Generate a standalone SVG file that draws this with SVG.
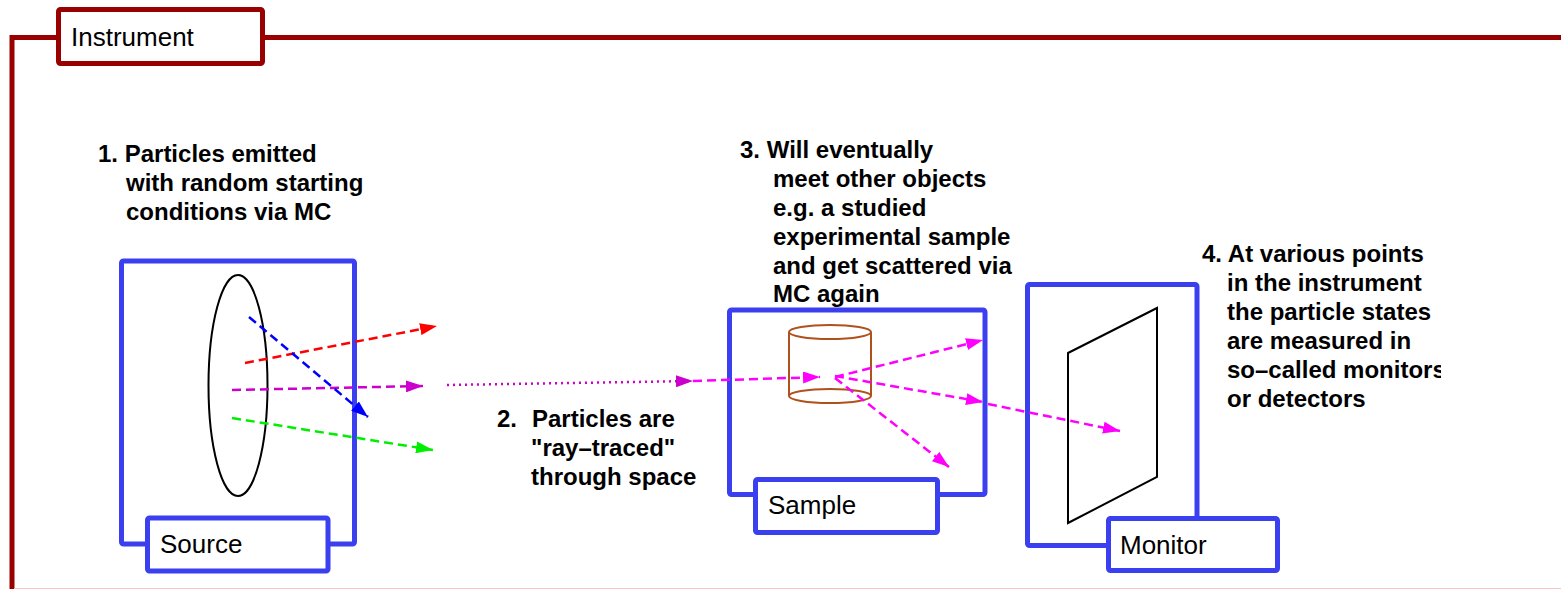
<svg xmlns="http://www.w3.org/2000/svg" width="1561" height="589" viewBox="0 0 1561 589">
<defs>
<style>
.frame{fill:none;stroke:#990000;stroke-width:5}
.framelbl{fill:#fff;stroke:#990000;stroke-width:5}
.box{fill:none;stroke:#3a3ff0;stroke-width:5}
.lbl{fill:#fff;stroke:#3a3ff0;stroke-width:5}
.lt{font-family:"Liberation Sans",Arial,Helvetica,sans-serif;font-size:26px;fill:#000}
.note{font-family:"Liberation Sans",Arial,Helvetica,sans-serif;font-size:24px;font-weight:bold;fill:#000}
.ray{fill:none;stroke-width:2.5;stroke-dasharray:9,5}
.obj{fill:none;stroke:#000;stroke-width:2}
.cyl{fill:none;stroke:#b0501a;stroke-width:2}
</style>
<marker id="ahR" markerWidth="17" markerHeight="12" refX="17" refY="6" orient="auto" markerUnits="userSpaceOnUse"><path d="M0,0 L17,6 L0,12 z" fill="#ff0000"/></marker>
<marker id="ahP" markerWidth="17" markerHeight="12" refX="17" refY="6" orient="auto" markerUnits="userSpaceOnUse"><path d="M0,0 L17,6 L0,12 z" fill="#cc00cc"/></marker>
<marker id="ahM" markerWidth="17" markerHeight="12" refX="17" refY="6" orient="auto" markerUnits="userSpaceOnUse"><path d="M0,0 L17,6 L0,12 z" fill="#ff00ff"/></marker>
<marker id="ahG" markerWidth="17" markerHeight="12" refX="17" refY="6" orient="auto" markerUnits="userSpaceOnUse"><path d="M0,0 L17,6 L0,12 z" fill="#00ee00"/></marker>
<marker id="ahB" markerWidth="17" markerHeight="12" refX="17" refY="6" orient="auto" markerUnits="userSpaceOnUse"><path d="M0,0 L17,6 L0,12 z" fill="#0000ff"/></marker>
<clipPath id="clip4"><rect x="1190" y="230" width="251" height="200"/></clipPath>
</defs>
<rect x="0" y="0" width="1561" height="589" fill="#fff"/>

<g id="instrument">
<path class="frame" d="M12,589 V37.5 H58 M263,37.5 H1561"/>
<rect class="framelbl" x="58.5" y="9.5" width="204" height="54" rx="2"/>
<text class="lt" x="71" y="46">Instrument</text>
<line x1="14" y1="588.5" x2="1561" y2="588.5" stroke="#f4c6c6" stroke-width="1"/>
</g>

<g id="source">
<rect class="box" x="121.5" y="261" width="233" height="283" rx="2"/>
<ellipse class="obj" cx="238" cy="385.5" rx="29.5" ry="110.5"/>
</g>

<g id="sample">
<rect class="box" x="729.5" y="310" width="255.5" height="184.5" rx="2"/>
<g id="cylinder">
<line class="cyl" x1="789" y1="332" x2="789" y2="396"/>
<line class="cyl" x1="871" y1="332" x2="871" y2="396"/>
<ellipse class="cyl" cx="830" cy="332" rx="41" ry="7"/>
<ellipse class="cyl" cx="830" cy="396" rx="41" ry="7"/>
</g>
</g>

<g id="monitor">
<rect class="box" x="1027.5" y="284.5" width="169.5" height="261" rx="2"/>
<polygon class="obj" points="1068,353 1157,308 1157,477 1068,523"/>
</g>

<g id="connectors">
<line class="ray" stroke="#ff0000" x1="245" y1="363" x2="437" y2="326" marker-end="url(#ahR)"/>
<line class="ray" stroke="#cc00cc" x1="232" y1="390" x2="423" y2="386" marker-end="url(#ahP)"/>
<line class="ray" stroke="#00ee00" x1="232" y1="418" x2="433" y2="450" marker-end="url(#ahG)"/>
<line class="ray" stroke="#0000ff" x1="249" y1="317" x2="368" y2="417" marker-end="url(#ahB)"/>
<line fill="none" stroke="#cc00cc" stroke-width="2.5" stroke-dasharray="2,4" x1="447" y1="385" x2="693" y2="381" marker-end="url(#ahP)"/>
<line class="ray" stroke="#ff00ff" x1="693" y1="381" x2="820" y2="377" marker-end="url(#ahM)"/>
<line class="ray" stroke="#ff00ff" x1="835" y1="377" x2="983" y2="340" marker-end="url(#ahM)"/>
<line class="ray" stroke="#ff00ff" x1="835" y1="376" x2="983" y2="402" marker-end="url(#ahM)"/>
<line class="ray" stroke="#ff00ff" x1="835" y1="378" x2="949" y2="467" marker-end="url(#ahM)"/>
<line class="ray" stroke="#ff00ff" x1="988" y1="404" x2="1120" y2="431" marker-end="url(#ahM)"/>
</g>

<g id="source-label">
<rect class="lbl" x="147.5" y="518" width="180.5" height="53" rx="2"/>
<text class="lt" x="160" y="553">Source</text>
</g>
<g id="sample-label">
<rect class="lbl" x="755.5" y="479.5" width="182" height="53" rx="2"/>
<text class="lt" x="768" y="514">Sample</text>
</g>
<g id="monitor-label">
<rect class="lbl" x="1108.5" y="518.5" width="169" height="52" rx="2"/>
<text class="lt" x="1120" y="554">Monitor</text>
</g>

<g id="note1">
<text class="note" x="98" y="162">1. Particles emitted</text>
<text class="note" x="126" y="191">with random starting</text>
<text class="note" x="126" y="220">conditions via MC</text>
</g>
<g id="note2">
<text class="note" x="497" y="427">2.</text>
<text class="note" x="532" y="427">Particles are</text>
<text class="note" x="531" y="456">"ray–traced"</text>
<text class="note" x="531" y="485">through space</text>
</g>
<g id="note3">
<text class="note" x="740" y="158">3. Will eventually</text>
<text class="note" x="773" y="187">meet other objects</text>
<text class="note" x="773" y="216">e.g. a studied</text>
<text class="note" x="773" y="245">experimental sample</text>
<text class="note" x="773" y="274">and get scattered via</text>
<text class="note" x="773" y="302">MC again</text>
</g>
<g id="note4" clip-path="url(#clip4)">
<text class="note" x="1202" y="262">4. At various points</text>
<text class="note" x="1227" y="291">in the instrument</text>
<text class="note" x="1227" y="320">the particle states</text>
<text class="note" x="1227" y="349">are measured in</text>
<text class="note" x="1227" y="378">so–called monitors</text>
<text class="note" x="1227" y="407">or detectors</text>
</g>
</svg>
